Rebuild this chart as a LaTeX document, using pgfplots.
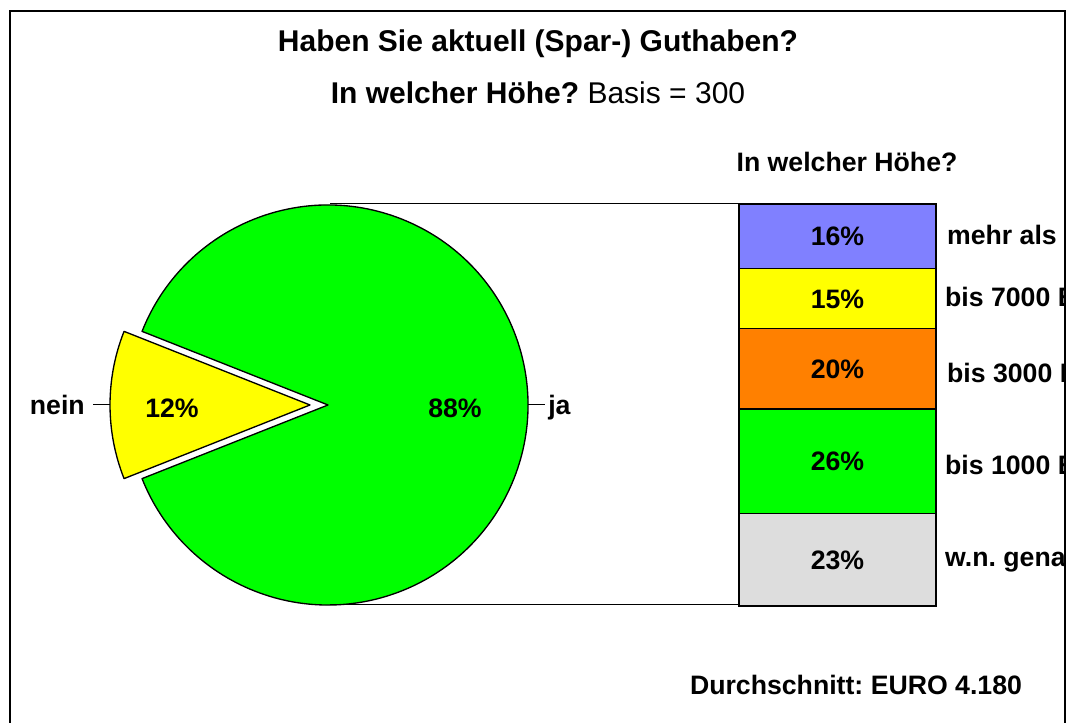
\documentclass[border=0pt]{standalone}
\usepackage{pgfplots}
\pgfplotsset{compat=1.18}
\usepackage{pgfplotstable}
\usepackage{fontspec}
\setmainfont{Liberation Sans}
\frenchspacing
\definecolor{cblue}{HTML}{8080FF}
\definecolor{cyel}{HTML}{FFFF00}
\definecolor{corange}{HTML}{FF8000}
\definecolor{cgreen}{HTML}{00FF00}
\definecolor{cgray}{HTML}{DDDDDD}
\newcommand{\lf}{\bfseries\fontsize{20}{24}\selectfont}
\pgfplotstableread{
label value
ja 88
nein 12
}\piedata
\begin{document}
\begin{tikzpicture}[x=0.75pt,y=0.75pt]
\path[use as bounding box] (0,0) rectangle (1071,723);
\begin{scope}
\clip (11,0) rectangle (1064,711);
% ---------- pie ----------
\pgfplotstablegetelem{1}{value}\of\piedata
\pgfmathsetmacro\h{\pgfplotsretval*1.8}
\begin{axis}[at={(246pt,238.5pt)}, anchor=origin, x=150pt, y=150pt,
  xmin=-1.3, xmax=1.3, ymin=-1.05, ymax=1.05, hide axis, clip=false]
\filldraw[fill=cgreen, line width=1pt, line join=round] (0,0) -- ({cos(180-\h)},{sin(180-\h)})
  arc[start angle=180-\h, end angle=-180+\h, radius=150pt] -- cycle;
\filldraw[fill=cyel, line width=1pt, line join=round] (-0.09,0) -- ({-0.09+cos(180-\h)},{sin(180-\h)})
  arc[start angle=180-\h, end angle=180+\h, radius=150pt] -- cycle;
\node[font=\lf] at (-0.78,-0.015) {12\%};
\node[font=\lf] at (0.635,-0.015) {88\%};
\draw[line width=0.75pt] (-1.09,0) -- (-1.175,0);
\draw[line width=0.75pt] (1,0) -- (1.085,0);
\node[font=\lf, anchor=base east, inner sep=0pt] at (-1.215,-0.05) {nein};
\node[font=\lf, anchor=base west, inner sep=0pt] at (1.10,-0.05) {ja};
\end{axis}
% ---------- stacked bar ----------
\begin{axis}[at={(554.25pt,87.75pt)}, anchor=south west, scale only axis,
  width=243.75pt, height=301.5pt, xmin=0, xmax=1.6497, ymin=0, ymax=100,
  hide axis, clip=false, ybar stacked, bar width=1, bar shift=0pt]
\addplot[fill=cgray, draw=black, line width=1pt] coordinates {(0.5,23)};
\addplot[fill=cgreen, draw=black, line width=1pt] coordinates {(0.5,26)};
\addplot[fill=corange, draw=black, line width=1pt] coordinates {(0.5,20)};
\addplot[fill=cyel, draw=black, line width=1pt] coordinates {(0.5,15)};
\addplot[fill=cblue, draw=black, line width=1pt] coordinates {(0.5,16)};
\coordinate (s1) at (0.5,9.1);
\coordinate (s2) at (0.5,33.6);
\coordinate (s3) at (0.5,56.6);
\coordinate (s4) at (0.5,74.1);
\coordinate (s5) at (0.5,89.6);
\node[font=\lf, anchor=base west, inner sep=0pt] at (1.055,89.8) {mehr als 7000 EURO};
\node[font=\lf, anchor=base west, inner sep=0pt] at (1.045,74.5) {bis 7000 EURO};
\node[font=\lf, anchor=base west, inner sep=0pt] at (1.055,55.6) {bis 3000 EURO};
\node[font=\lf, anchor=base west, inner sep=0pt] at (1.045,32.6) {bis 1000 EURO};
\node[font=\lf, anchor=base west, inner sep=0pt] at (1.045,9.8) {w.n. genau};
\end{axis}
\end{scope}
\node[font=\lf, anchor=base] at (s1) {23\%};
\node[font=\lf, anchor=base] at (s2) {26\%};
\node[font=\lf, anchor=base] at (s3) {20\%};
\node[font=\lf, anchor=base] at (s4) {15\%};
\node[font=\lf, anchor=base] at (s5) {16\%};
% connector lines
\draw[line width=0.75pt] (330,519) -- (739,519);
\draw[line width=0.75pt] (330,118) -- (739,118);
% titles
\node[font=\bfseries\fontsize{22.5}{26}\selectfont, anchor=base] at (538,671) {Haben Sie aktuell (Spar-) Guthaben?};
\node[font=\fontsize{22.5}{26}\selectfont, anchor=base] at (538,619) {\textbf{In welcher Höhe?} Basis = 300};
\node[font=\lf, anchor=base] at (847,551) {In welcher Höhe?};
\node[font=\lf, anchor=base] at (856,28) {Durchschnitt: EURO 4.180};
% frame
\draw[line width=1.6pt] (10,-5) -- (10,712) -- (1065,712) -- (1065,-5);
\end{tikzpicture}
\end{document}
